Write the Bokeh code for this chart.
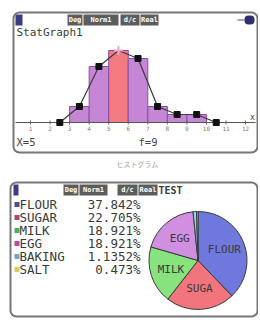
import numpy as np
from bokeh.plotting import figure
from bokeh.layouts import column
from bokeh.models import BoxAnnotation, Label
from bokeh.core.properties import value
from bokeh.embed import file_html
from bokeh.resources import INLINE

# ---------------- histogram data ----------------
class_edges = [3, 4, 5, 6, 7, 8, 9, 10]
frequencies = [2, 7, 9, 8, 2, 1, 1]
highlight_bar = 2
poly_x = [2.5, 3.5, 4.5, 5.5, 6.5, 7.5, 8.5, 9.5, 10.5]
poly_y = [0, 2, 7, 9, 8, 2, 1, 1, 0]
trace_point = 3
x_ticks = [1, 2, 3, 4, 5, 6, 7, 8, 9, 10, 11, 12]
trace_x_text = "X=5"
trace_f_text = "f=9"

# ---------------- pie data ----------------
ingredients = ["FLOUR", "SUGAR", "MILK", "EGG", "BAKING", "SALT"]
amounts = [400, 240, 200, 200, 12, 5]
percent_labels = ["37.842%", "22.705%", "18.921%", "18.921%", "1.1352%", "0.473%"]
slice_labels = ["FLOUR", "SUGA", "MILK", "EGG", "", ""]
slice_colors = ["#6f78dc", "#f2747c", "#88e27e", "#d08fe0", "#86d6ea", "#ece27a"]
marker_colors = ["#4c4f96", "#b2456a", "#46b456", "#b448b8", "#72a6c8", "#d6cc66"]

MONO = "DejaVu Sans Mono"
OX, OY = 0, 0          # page position of the layout
W = 258
FRAME = "#777777"

# ================= figure 1 : histogram screen =================
H1 = 173
def hx(px):
    return 1 + (px - 30) / 19.55
def hy(py):
    return (122 - py) / 8.0

p1 = figure(width=W, height=H1, x_range=(hx(OX), hx(OX + W)), y_range=(hy(OY + H1), hy(OY)),
            output_backend="svg", toolbar_location=None, x_axis_location=None,
            y_axis_location=None, min_border=0, title=None, outline_line_color=None)
p1.grid.visible = False
p1.background_fill_color = "white"
p1.border_fill_color = "white"

def sbox(p, fx, fy, x0, x1, y0, y1, color, text=None, tcolor="white", size="7px", radius=0):
    p.add_layout(BoxAnnotation(left=fx(x0), right=fx(x1), top=fy(y0), bottom=fy(y1),
                               fill_color=color, fill_alpha=1, line_color=None,
                               border_radius=radius))
    if text:
        p.add_layout(Label(x=fx((x0 + x1) / 2), y=fy((y0 + y1) / 2), text=text,
                           text_align="center", text_baseline="middle",
                           text_font=MONO, text_font_size=size, text_color=tcolor,
                           text_font_style="bold"))

# status bar
sbox(p1, hx, hy, 15, 22, 14, 25, "#3b3b86")
sbox(p1, hx, hy, 67, 82, 14, 25, "#5c5c5c", "Deg")
sbox(p1, hx, hy, 83, 118, 14, 25, "#5c5c5c", "Norm1")
sbox(p1, hx, hy, 120, 139, 14, 25, "#5c5c5c", "d/c")
sbox(p1, hx, hy, 140, 158, 14, 25, "#5c5c5c", "Real")
sbox(p1, hx, hy, 244, 254, 15, 24, "#2e2e70", radius=4)
sbox(p1, hx, hy, 237, 244, 19, 20, "#555555")

p1.add_layout(Label(x=hx(16), y=hy(32), text="StatGraph1", text_baseline="middle",
                    text_font=MONO, text_font_size="11px", text_color="#3c3c3c"))

# bars
bar_colors = ["#c586d6"] * len(frequencies)
bar_colors[highlight_bar] = "#f47a82"
p1.quad(left=class_edges[:-1], right=class_edges[1:], bottom=0, top=frequencies,
        fill_color=bar_colors, line_color="#8c4ea4", line_width=1)

# axis
p1.line([hx(15), hx(255)], [0, 0], line_color="#555555", line_width=1)
p1.scatter(x=x_ticks, y=[0] * len(x_ticks), marker="dash", angle=np.pi / 2, size=4,
           line_color="#666666")
p1.text(x=x_ticks, y=[0] * len(x_ticks), text=[str(t) for t in x_ticks], y_offset=6,
        text_align="center", text_baseline="middle", text_font=value(MONO),
        text_font_size="6px", text_color="#7a7a7a")
p1.add_layout(Label(x=hx(252), y=hy(117), text="x", text_align="center",
                    text_baseline="middle", text_font=MONO, text_font_size="8px",
                    text_color="#444444"))

# frequency polygon
p1.line(poly_x, poly_y, line_color="#3a3a3a", line_width=1.2)
pts_x = [v for i, v in enumerate(poly_x) if i != trace_point]
pts_y = [v for i, v in enumerate(poly_y) if i != trace_point]
p1.scatter(pts_x, pts_y, marker="square", size=6, fill_color="#111111", line_color="#111111")
p1.scatter([poly_x[trace_point]], [poly_y[trace_point]], marker="cross", size=9,
           line_color="#f4a6c6", line_width=2)

p1.add_layout(Label(x=hx(16), y=hy(141), text=trace_x_text, text_baseline="middle",
                    text_font=MONO, text_font_size="10.5px", text_color="#444444"))
p1.add_layout(Label(x=hx(138), y=hy(141), text=trace_f_text, text_baseline="middle",
                    text_font=MONO, text_font_size="10.5px", text_color="#444444"))
p1.add_layout(Label(x=hx(137), y=hy(163), text="ヒストグラム", text_align="center",
                    text_baseline="middle", text_font="Noto Sans CJK JP",
                    text_font_size="7px", text_color="#a0a0a0"))

# panel frame (drawn on top, outline only)
p1.add_layout(BoxAnnotation(left=hx(13), right=hx(257), top=hy(12), bottom=hy(152),
                            fill_alpha=0, line_color=FRAME, line_alpha=1, line_width=2,
                            border_radius=6))

# ================= figure 2 : pie screen =================
H2 = 318 - H1
TOP2 = OY + H1
def qx(px):
    return (px - 197.5) / 49.0
def qy(py):
    return (260 - py) / 49.0

p2 = figure(width=W, height=H2, x_range=(qx(OX), qx(OX + W)), y_range=(qy(TOP2 + H2), qy(TOP2)),
            output_backend="svg", toolbar_location=None, x_axis_location=None,
            y_axis_location=None, min_border=0, title=None, outline_line_color=None)
p2.grid.visible = False
p2.background_fill_color = "white"
p2.border_fill_color = "white"

sbox(p2, qx, qy, 13, 18, 184, 195, "#3b3b86")
sbox(p2, qx, qy, 63, 78, 184, 195, "#5c5c5c", "Deg")
sbox(p2, qx, qy, 79, 107, 184, 195, "#5c5c5c", "Norm1")
sbox(p2, qx, qy, 117, 137, 184, 195, "#5c5c5c", "d/c")
sbox(p2, qx, qy, 138, 157, 184, 195, "#5c5c5c", "Real")
p2.add_layout(Label(x=qx(158), y=qy(189.5), text="TEST", text_baseline="middle",
                    text_font=MONO, text_font_size="10px", text_color="#3c3c3c",
                    text_font_style="bold"))

# table
row_y = [qy(204 + 13 * i) for i in range(len(ingredients))]
p2.scatter(x=[qx(16.5)] * len(ingredients), y=row_y, marker="square", size=5,
           fill_color=marker_colors, line_color=None)
p2.text(x=[qx(19)] * len(ingredients), y=row_y, text=ingredients, text_align="left",
        text_baseline="middle", text_font=value(MONO), text_font_size="12.5px",
        text_color="#3a3a3a")
p2.text(x=[qx(140)] * len(ingredients), y=row_y, text=percent_labels, text_align="right",
        text_baseline="middle", text_font=value(MONO), text_font_size="12.5px",
        text_color="#3a3a3a")

# pie
amt = np.array(amounts, dtype=float)
frac = amt / amt.sum()
cum = np.concatenate([[0], np.cumsum(frac)])
start = np.pi / 2 - 2 * np.pi * cum[:-1]
end = np.pi / 2 - 2 * np.pi * cum[1:]
p2.wedge(x=0, y=0, radius=1, start_angle=start, end_angle=end, direction="clock",
         fill_color=slice_colors, line_color="#3a3a3a", line_width=1)
mid = np.pi / 2 - 2 * np.pi * (cum[:-1] + frac / 2)
p2.text(x=0.58 * np.cos(mid), y=0.58 * np.sin(mid), text=slice_labels, text_align="center",
        text_baseline="middle", text_font=value(MONO), text_font_size="11px",
        text_color="#3a3a3a")

p2.add_layout(BoxAnnotation(left=qx(10), right=qx(257), top=qy(182), bottom=qy(316),
                            fill_alpha=0, line_color=FRAME, line_alpha=1, line_width=2,
                            border_radius=6))

layout = column(p1, p2, spacing=0)
open("out.html", "w").write(file_html(layout, INLINE))
